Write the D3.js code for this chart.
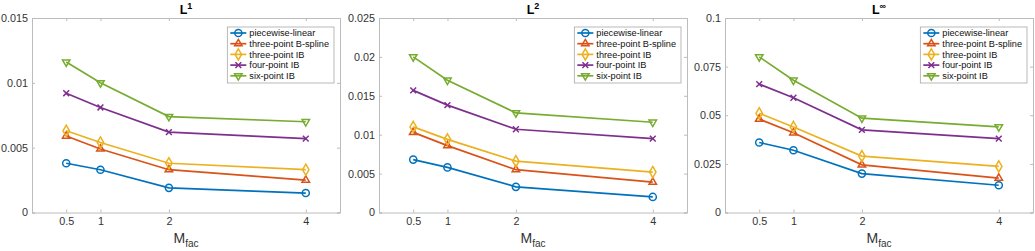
<!DOCTYPE html>
<html>
<head>
<meta charset="utf-8">
<script src="https://cdn.jsdelivr.net/npm/d3@7"></script>
<style>
  body { margin: 0; background: #fff; }
  svg { display: block; font-family: "Liberation Sans", Arial, sans-serif; }
</style>
</head>
<body>
<svg id="drawing_region"></svg>
<script>
// data
const mfac = [0.5, 1, 2, 4];
const methods = ["piecewise-linear", "three-point B-spline", "three-point IB", "four-point IB", "six-point IB"];
const colors = ["#0072BD", "#D95319", "#EDB120", "#7E2F8E", "#77AC30"];

const l1Values = [
    [0.0038, 0.0033, 0.0019, 0.0015],
    [0.0059, 0.0049, 0.0033, 0.0025],
    [0.0063, 0.0054, 0.0038, 0.0033],
    [0.0092, 0.0081, 0.0062, 0.0057],
    [0.0116, 0.0100, 0.0074, 0.0070]
];
const l2Values = [
    [0.0068, 0.0058, 0.0033, 0.0020],
    [0.0103, 0.0086, 0.0055, 0.0039],
    [0.0110, 0.0094, 0.0066, 0.0052],
    [0.0157, 0.0138, 0.0107, 0.0095],
    [0.0200, 0.0170, 0.0128, 0.0116]
];
const linfValues = [
    [0.036, 0.032, 0.020, 0.014],
    [0.048, 0.041, 0.0245, 0.0177],
    [0.051, 0.044, 0.029, 0.0237],
    [0.066, 0.059, 0.0425, 0.038],
    [0.080, 0.068, 0.0485, 0.044]
];

const l1Ticks = [0, 0.005, 0.01, 0.015];
const l2Ticks = [0, 0.005, 0.01, 0.015, 0.02, 0.025];
const linfTicks = [0, 0.025, 0.05, 0.075, 0.1];
const l1TickLabels = ["0", "0.005", "0.01", "0.015"];
const l2TickLabels = ["0", "0.005", "0.01", "0.015", "0.02", "0.025"];
const linfTickLabels = ["0", "0.025", "0.05", "0.075", "0.1"];

const panels = [
    { sup: "1", values: l1Values, ticks: l1Ticks, labels: l1TickLabels, left: 32 },
    { sup: "2", values: l2Values, ticks: l2Ticks, labels: l2TickLabels, left: 379 },
    { sup: "\u221E", values: linfValues, ticks: linfTicks, labels: linfTickLabels, left: 725 }
];

const W = 1035, H = 251;
const plotW = 308, plotTop = 18, plotBottom = 212.5;
const frameColor = "#bcbcbc", textColor = "#333333";

const svg = d3.select("#drawing_region").attr("width", W).attr("height", H);

const symbolTypes = [d3.symbolCircle, d3.symbolTriangle2, d3.symbolDiamond, d3.symbolTimes, d3.symbolTriangle2];
const symbolSizes = [40, 40, 36, 24, 40];
const symbolRotate = [0, 0, 0, 0, 180];

function marker(sel, i) {
    sel.append("path")
        .attr("d", d3.symbol().type(symbolTypes[i]).size(symbolSizes[i])())
        .attr("transform", `rotate(${symbolRotate[i]})`)
        .attr("fill", "none")
        .attr("stroke", colors[i])
        .attr("stroke-width", 1.5);
}

panels.forEach(p => {
    const x = d3.scaleLinear().domain([0, 4.5]).range([p.left, p.left + plotW]);
    const y = d3.scaleLinear().domain([0, p.ticks[p.ticks.length - 1]]).range([plotBottom, plotTop]);
    const g = svg.append("g");

    // axes, MATLAB style ticks pointing inward on all four sides
    const fmt = (d) => p.labels[p.ticks.indexOf(d)];
    const ax = [
        g.append("g").attr("transform", `translate(0,${plotBottom})`)
            .call(d3.axisBottom(x).tickValues(mfac).tickSize(-3).tickPadding(5).tickFormat(d => String(d))),
        g.append("g").attr("transform", `translate(0,${plotTop})`)
            .call(d3.axisTop(x).tickValues(mfac).tickSize(-3).tickFormat("")),
        g.append("g").attr("transform", `translate(${p.left},0)`)
            .call(d3.axisLeft(y).tickValues(p.ticks).tickSize(-3).tickPadding(4).tickFormat(fmt)),
        g.append("g").attr("transform", `translate(${p.left + plotW},0)`)
            .call(d3.axisRight(y).tickValues(p.ticks).tickSize(-3).tickFormat(""))
    ];
    ax.forEach(a => {
        a.select(".domain").attr("stroke", frameColor);
        a.selectAll(".tick line").attr("stroke", frameColor);
        a.selectAll(".tick text").attr("fill", textColor).attr("font-size", 10.8)
            .attr("font-family", "Liberation Sans, Arial, sans-serif");
    });

    // series
    const line = d3.line().x((d, j) => x(mfac[j])).y(d => y(d));
    p.values.forEach((vals, i) => {
        g.append("path")
            .datum(vals)
            .attr("d", line)
            .attr("fill", "none")
            .attr("stroke", colors[i])
            .attr("stroke-width", 1.7);
        vals.forEach((v, j) => {
            const m = g.append("g").attr("transform", `translate(${x(mfac[j])},${y(v)})`);
            marker(m, i);
        });
    });

    // title
    const cx = p.left + plotW / 2;
    const title = g.append("text")
        .attr("x", cx).attr("y", 14)
        .attr("text-anchor", "middle")
        .attr("font-weight", "bold")
        .attr("font-size", 12.5)
        .attr("fill", "#000");
    title.append("tspan").text("L");
    title.append("tspan").attr("dy", -5).attr("font-size", 9).text(p.sup);

    // x label
    const xl = g.append("text")
        .attr("x", cx).attr("y", 243)
        .attr("text-anchor", "middle")
        .attr("font-size", 14)
        .attr("fill", textColor);
    xl.append("tspan").text("M");
    xl.append("tspan").attr("dy", 4).attr("font-size", 10).text("fac");

    // legend
    const rowH = 10.7, legTop = 27;
    const lg = g.append("g");
    const box = lg.append("rect")
        .attr("y", legTop)
        .attr("height", rowH * methods.length + 2.5)
        .attr("fill", "#fff")
        .attr("stroke", "#a8a8a8")
        .attr("stroke-width", 0.8);
    let maxW = 0;
    methods.forEach((name, i) => {
        const r = lg.append("g").attr("transform", `translate(0,${legTop + 6 + i * rowH})`);
        r.append("line").attr("x1", 3).attr("x2", 19).attr("y1", 0).attr("y2", 0)
            .attr("stroke", colors[i]).attr("stroke-width", 1.7);
        const m = r.append("g").attr("transform", "translate(11,0)");
        marker(m, i);
        const t = r.append("text").attr("x", 22).attr("y", 3.3)
            .attr("font-size", 9.2).attr("fill", "#111").text(name);
        maxW = Math.max(maxW, t.node().getComputedTextLength());
    });
    const boxW = 22 + maxW + 5;
    const boxX = p.left + plotW - 6 - boxW;
    box.attr("x", 0).attr("width", boxW);
    lg.attr("transform", `translate(${boxX},0)`);
});
</script>
</body>
</html>
